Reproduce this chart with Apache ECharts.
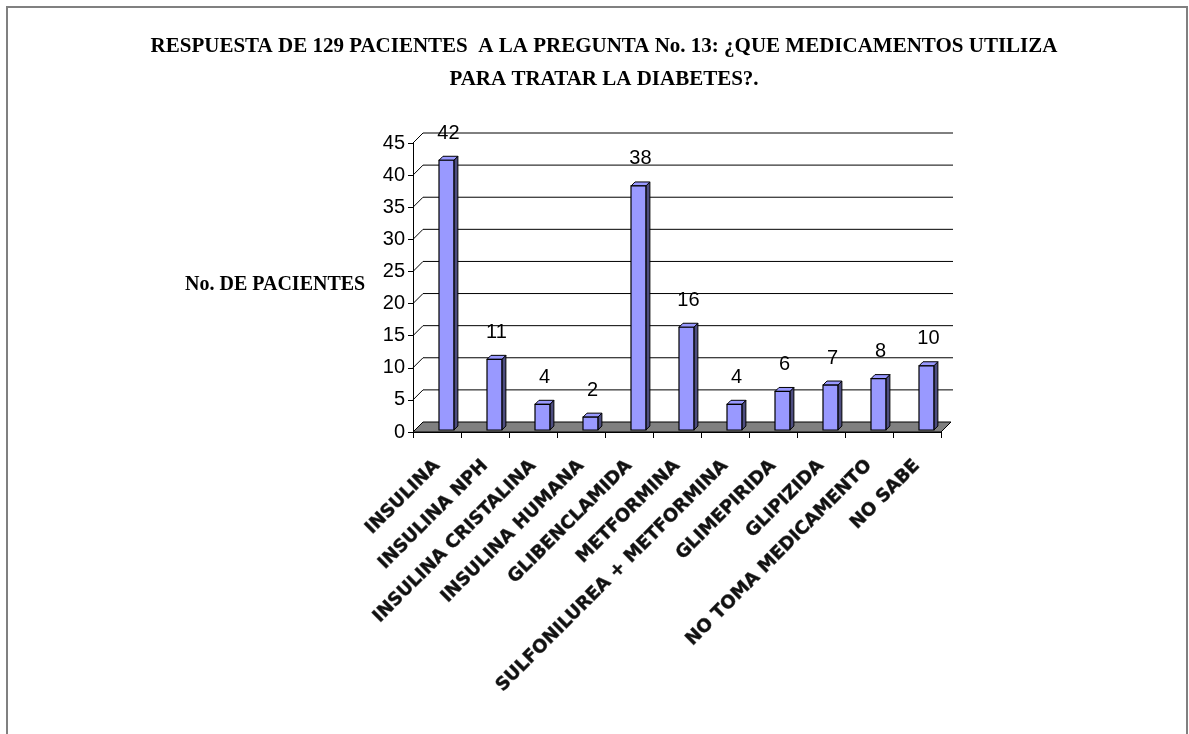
<!DOCTYPE html>
<html>
<head>
<meta charset="utf-8">
<script src="https://cdn.jsdelivr.net/npm/echarts@6/dist/echarts.min.js"></script>
<style>
  html, body { margin: 0; padding: 0; background: #fff; }
  #chart { width: 1189px; height: 734px; }
</style>
</head>
<body>
<div id="chart"></div>
<script>
// chart data
var categories = ['INSULINA', 'INSULINA NPH', 'INSULINA CRISTALINA', 'INSULINA HUMANA',
  'GLIBENCLAMIDA', 'METFORMINA', 'SULFONILUREA + METFORMINA', 'GLIMEPIRIDA',
  'GLIPIZIDA', 'NO TOMA MEDICAMENTO', 'NO SABE'];
var pacientes = [42, 11, 4, 2, 38, 16, 4, 6, 7, 8, 10];
var yTicks = [0, 5, 10, 15, 20, 25, 30, 35, 40, 45];

var chart = echarts.init(document.getElementById('chart'));

var DEPTH = 10;   // wall / floor depth
var BAR_D = 4;    // bar side depth

function renderItem(params, api) {
  var idx = params.dataIndex;
  var base = api.coord([idx, 0]);
  var top = api.coord([idx, api.value(1)]);
  var band = api.size([1, 0])[0];
  var children = [];

  if (idx === 0) {
    var left = base[0] - band / 2;
    var right = left + band * categories.length;
    var y0 = base[1];
    // back wall grid lines + connectors
    yTicks.forEach(function (t) {
      var y = api.coord([0, t])[1];
      if (t > 0) {
        children.push({
          type: 'line',
          shape: { x1: left + DEPTH, y1: y - DEPTH, x2: right + DEPTH + 2, y2: y - DEPTH },
          style: { stroke: '#000', lineWidth: 1 }
        });
      }
      children.push({
        type: 'line',
        shape: { x1: left, y1: y, x2: left + DEPTH, y2: y - DEPTH },
        style: { stroke: '#000', lineWidth: 1 }
      });
    });
    // floor
    children.push({
      type: 'polygon',
      shape: { points: [[left, y0], [right, y0], [right + DEPTH, y0 - DEPTH], [left + DEPTH, y0 - DEPTH]] },
      style: { fill: '#808080', stroke: '#000', lineWidth: 1 }
    });
  }

  var w = band * 0.31;
  var x0 = base[0] + 2;
  var yb = base[1] - 2;
  var yt = top[1] - 2;
  // side
  children.push({
    type: 'polygon',
    shape: { points: [[x0 + w, yb], [x0 + w + BAR_D, yb - BAR_D], [x0 + w + BAR_D, yt - BAR_D], [x0 + w, yt]] },
    style: { fill: '#4d4d80', stroke: '#000', lineWidth: 1 }
  });
  // top
  children.push({
    type: 'polygon',
    shape: { points: [[x0, yt], [x0 + w, yt], [x0 + w + BAR_D, yt - BAR_D], [x0 + BAR_D, yt - BAR_D]] },
    style: { fill: '#9999ff', stroke: '#000', lineWidth: 1 }
  });
  // front
  children.push({
    type: 'rect',
    shape: { x: x0, y: yt, width: w, height: yb - yt },
    style: { fill: '#9999ff', stroke: '#000', lineWidth: 1.2 }
  });
  // value label
  children.push({
    type: 'text',
    style: {
      text: String(api.value(1)),
      x: x0 + w / 2 + 2,
      y: yt - 27,
      align: 'center',
      verticalAlign: 'middle',
      fill: '#000',
      font: '20px "Liberation Sans", Arial, sans-serif'
    }
  });
  return { type: 'group', children: children };
}

var option = {
  backgroundColor: '#fff',
  animation: false,
  title: {
    text: 'RESPUESTA DE 129 PACIENTES  A LA PREGUNTA No. 13: ¿QUE MEDICAMENTOS UTILIZA\nPARA TRATAR LA DIABETES?.',
    left: 599,
    top: 25,
    textAlign: 'center',
    textStyle: {
      fontFamily: '"Liberation Serif", "Times New Roman", serif',
      fontWeight: 'bold',
      fontSize: 21,
      lineHeight: 33,
      color: '#000'
    }
  },
  graphic: [
    {
      type: 'rect',
      silent: true,
      shape: { x: 7, y: 7, width: 1180, height: 740 },
      style: { fill: 'none', stroke: '#808080', lineWidth: 2 }
    },
    {
      type: 'text',
      left: 185,
      top: 275,
      style: {
        text: 'No. DE PACIENTES',
        font: 'bold 20px "Liberation Serif", "Times New Roman", serif',
        fill: '#000'
      }
    }
  ],
  grid: {
    left: 413,
    right: 248,
    top: 143,
    bottom: 302,
    containLabel: false
  },
  xAxis: {
    type: 'category',
    data: categories,
    axisLine: { lineStyle: { color: '#000', width: 1 } },
    axisTick: { show: true, length: 6, lineStyle: { color: '#000' } },
    axisLabel: {
      interval: 0,
      rotate: 45,
      margin: 31,
      fontFamily: '"DejaVu Sans", sans-serif',
      fontWeight: 'bold',
      fontSize: 18,
      color: '#111',
      textBorderColor: '#777',
      textBorderWidth: 0.8
    },
    splitLine: { show: false }
  },
  yAxis: {
    type: 'value',
    min: 0,
    max: 45,
    interval: 5,
    axisLine: { show: true, lineStyle: { color: '#000', width: 1 } },
    axisTick: { show: true, length: 5, lineStyle: { color: '#000' } },
    axisLabel: {
      margin: 8,
      fontFamily: '"Liberation Sans", Arial, sans-serif',
      fontSize: 20,
      color: '#000'
    },
    splitLine: { show: false }
  },
  series: [
    {
      type: 'custom',
      renderItem: renderItem,
      clip: false,
      encode: { x: 0, y: 1 },
      data: pacientes.map(function (v, i) { return [i, v]; })
    }
  ]
};
chart.setOption(option);
</script>
</body>
</html>
